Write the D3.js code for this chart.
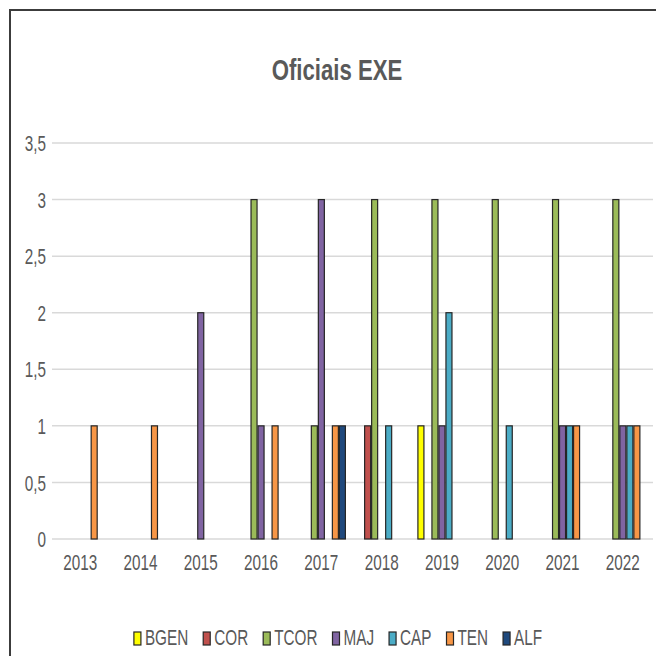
<!DOCTYPE html>
<html>
<head>
<meta charset="utf-8">
<script src="https://cdn.jsdelivr.net/npm/d3@7"></script>
<style>
html,body{margin:0;padding:0;background:#fff;}
svg{display:block;}
</style>
</head>
<body>
<svg id="chart" width="656" height="656"></svg>
<script>
const years = ["2013","2014","2015","2016","2017","2018","2019","2020","2021","2022"];
const seriesNames = ["BGEN","COR","TCOR","MAJ","CAP","TEN","ALF"];
const seriesColors = ["#ffff00","#c0504d","#9bbb59","#8064a2","#4bacc6","#f79646","#1f497d"];
const BGEN = [0,0,0,0,0,0,1,0,0,0];
const COR  = [0,0,0,0,0,1,0,0,0,0];
const TCOR = [0,0,0,3,1,3,3,3,3,3];
const MAJ  = [0,0,2,1,3,0,1,0,1,1];
const CAP  = [0,0,0,0,0,1,2,1,1,1];
const TEN  = [1,1,0,1,1,0,0,0,1,1];
const ALF  = [0,0,0,0,1,0,0,0,0,0];
const seriesValues = [BGEN, COR, TCOR, MAJ, CAP, TEN, ALF];
const yTicks = [0,0.5,1,1.5,2,2.5,3,3.5];
const title = "Oficiais EXE";

const svg = d3.select("#chart");
const FONT = "'Liberation Sans',Arial,sans-serif";
const txt = "#595959";
const SX = 0.68; // horizontal condensing of text
const FS = 22.5;

svg.append("rect").attr("x",0).attr("y",0).attr("width",656).attr("height",656).attr("fill","#fff");
// chart frame (extends beyond viewport on right/bottom)
svg.append("rect").attr("x",10).attr("y",10).attr("width",700).attr("height",700)
  .attr("fill","#fff").attr("stroke","#3c3c3c").attr("stroke-width",2);

const pLeft = 50, pRight = 653, pTop = 143, pBottom = 539;
const x = d3.scaleBand().domain(years).range([pLeft, pRight]).padding(0);
const xi = d3.scaleBand().domain(seriesNames).range([0, x.bandwidth()]).paddingInner(0).paddingOuter(0.8);
const y = d3.scaleLinear().domain([0, 3.5]).range([pBottom, pTop]);
const fmt = d => String(d).replace(".", ",");

// gridlines
svg.append("g").selectAll("line").data(yTicks).join("line")
  .attr("x1", pLeft+2).attr("x2", pRight)
  .attr("y1", d => y(d)).attr("y2", d => y(d))
  .attr("stroke","#d9d9d9").attr("stroke-width",1.5);

// y labels
svg.append("g").selectAll("text").data(yTicks).join("text")
  .attr("transform", d => `translate(46,${y(d)}) scale(${SX},1)`)
  .attr("dy","0.36em")
  .attr("text-anchor","end").attr("font-family",FONT).attr("font-size",FS).attr("fill",txt)
  .text(fmt);

// x labels
svg.append("g").selectAll("text").data(years).join("text")
  .attr("transform", d => `translate(${x(d) + x.bandwidth()/2},570) scale(${SX},1)`)
  .attr("text-anchor","middle").attr("font-family",FONT).attr("font-size",FS).attr("fill",txt)
  .text(d => d);

// bars
const barData = [];
seriesNames.forEach((s, si) => {
  years.forEach((yr, yi) => {
    const v = seriesValues[si][yi];
    if (v > 0) barData.push({s, si, yr, v});
  });
});
svg.append("g").selectAll("rect").data(barData).join("rect")
  .attr("x", d => x(d.yr) + xi(d.s) + 0.5)
  .attr("y", d => y(d.v))
  .attr("width", xi.bandwidth() - 1)
  .attr("height", d => y(0) - y(d.v))
  .attr("fill", d => seriesColors[d.si])
  .attr("stroke","#262626").attr("stroke-width",1.2);

// title
svg.append("text").attr("transform", `translate(337,80) scale(0.74,1)`).attr("text-anchor","middle")
  .attr("font-family",FONT).attr("font-weight","bold").attr("font-size",30).attr("fill",txt)
  .text(title);

// legend
const lg = svg.append("g");
const items = lg.selectAll("g").data(seriesNames).join("g");
items.append("rect").attr("width",7).attr("height",13).attr("y",-13)
  .attr("fill",(d,i)=>seriesColors[i]).attr("stroke","#262626").attr("stroke-width",1.2);
items.append("text").attr("transform",`translate(11,0) scale(${SX},1)`)
  .attr("font-family",FONT).attr("font-size",FS).attr("fill",txt).text(d=>d);
let cx = 0;
const widths = [];
items.each(function(){ widths.push(11 + SX*d3.select(this).select("text").node().getComputedTextLength()); });
const gap = 15;
const total = d3.sum(widths) + gap*(widths.length-1);
let startX = 338 - total/2;
items.attr("transform",(d,i)=>{ const t = `translate(${startX + cx},645)`; cx += widths[i] + gap; return t; });
</script>
</body>
</html>
